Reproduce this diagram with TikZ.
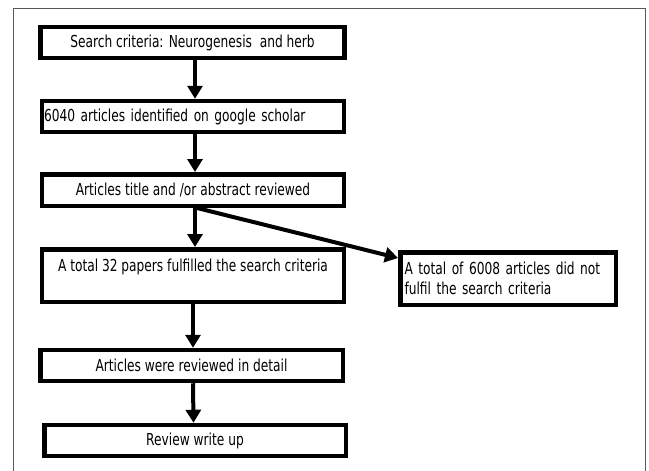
\documentclass[tikz,border=0pt]{standalone}
\usepackage{fontspec}
\setmainfont[FakeStretch=0.74]{DejaVu Sans}
\usetikzlibrary{arrows.meta}
\begin{document}
\begin{tikzpicture}[x=1pt,y=-1pt,
  boxfont/.style={font=\fontsize{16.5}{20.5}\selectfont},
  flowbox/.style={draw=black,line width=4.5pt,rectangle,inner sep=0pt,
    minimum width=302pt,minimum height=31pt,boxfont},
  flowarrow/.style={line width=4pt,-{Triangle[width=15pt,length=13pt]}}]
  \useasboundingbox (0,0) rectangle (649,471);
  % frame around the figure
  \draw[line width=1pt,black!65] (13,480) -- (13,8) -- (645,8) -- (645,480);
  % boxes of the main column
  \node[flowbox,minimum width=304pt] (b1) at (192.5,42.5) {Search criteria: Neurogenesis\ \ and herb};
  \node[flowbox,text width=298pt,align=left] (b2) at (193,116.5) {6040 articles identified on google scholar};
  \node[flowbox,minimum height=31.5pt] (b3) at (193,190) {Articles title and /or abstract reviewed};
  \node[flowbox,minimum height=52.5pt,align=center] (b4) at (193,275.5) {A total 32 papers fulfilled the search criteria\\\mbox{}};
  \node[flowbox,minimum width=302.5pt] (b5) at (191.5,365.5) {Articles were reviewed in detail};
  \node[flowbox,minimum width=301.5pt] (b6) at (195,440.5) {Review write up};
  % side box for excluded articles
  \node[flowbox,minimum width=215.5pt,minimum height=52.5pt,text width=207pt,align=left] (rb) at (508,278.5) {A total of 6008 articles did not\\fulfil the search criteria};
  % connectors
  \draw[flowarrow] ([xshift=2.5pt]b1.south) -- ([xshift=2pt]b2.north);
  \draw[flowarrow] ([xshift=2pt]b2.south) -- ([xshift=2pt]b3.north);
  \draw[flowarrow] ([xshift=2pt]b3.south) -- ([xshift=2pt]b4.north);
  \draw[flowarrow] ([xshift=4pt]b3.south) -- ([yshift=-8pt]rb.north west);
  \draw[flowarrow] ([xshift=0pt]b4.south) -- ([xshift=1.5pt]b5.north);
  \draw[flowarrow] ([xshift=1.5pt]b5.south) -- ([xshift=-1.5pt]b6.north);
\end{tikzpicture}
\end{document}
